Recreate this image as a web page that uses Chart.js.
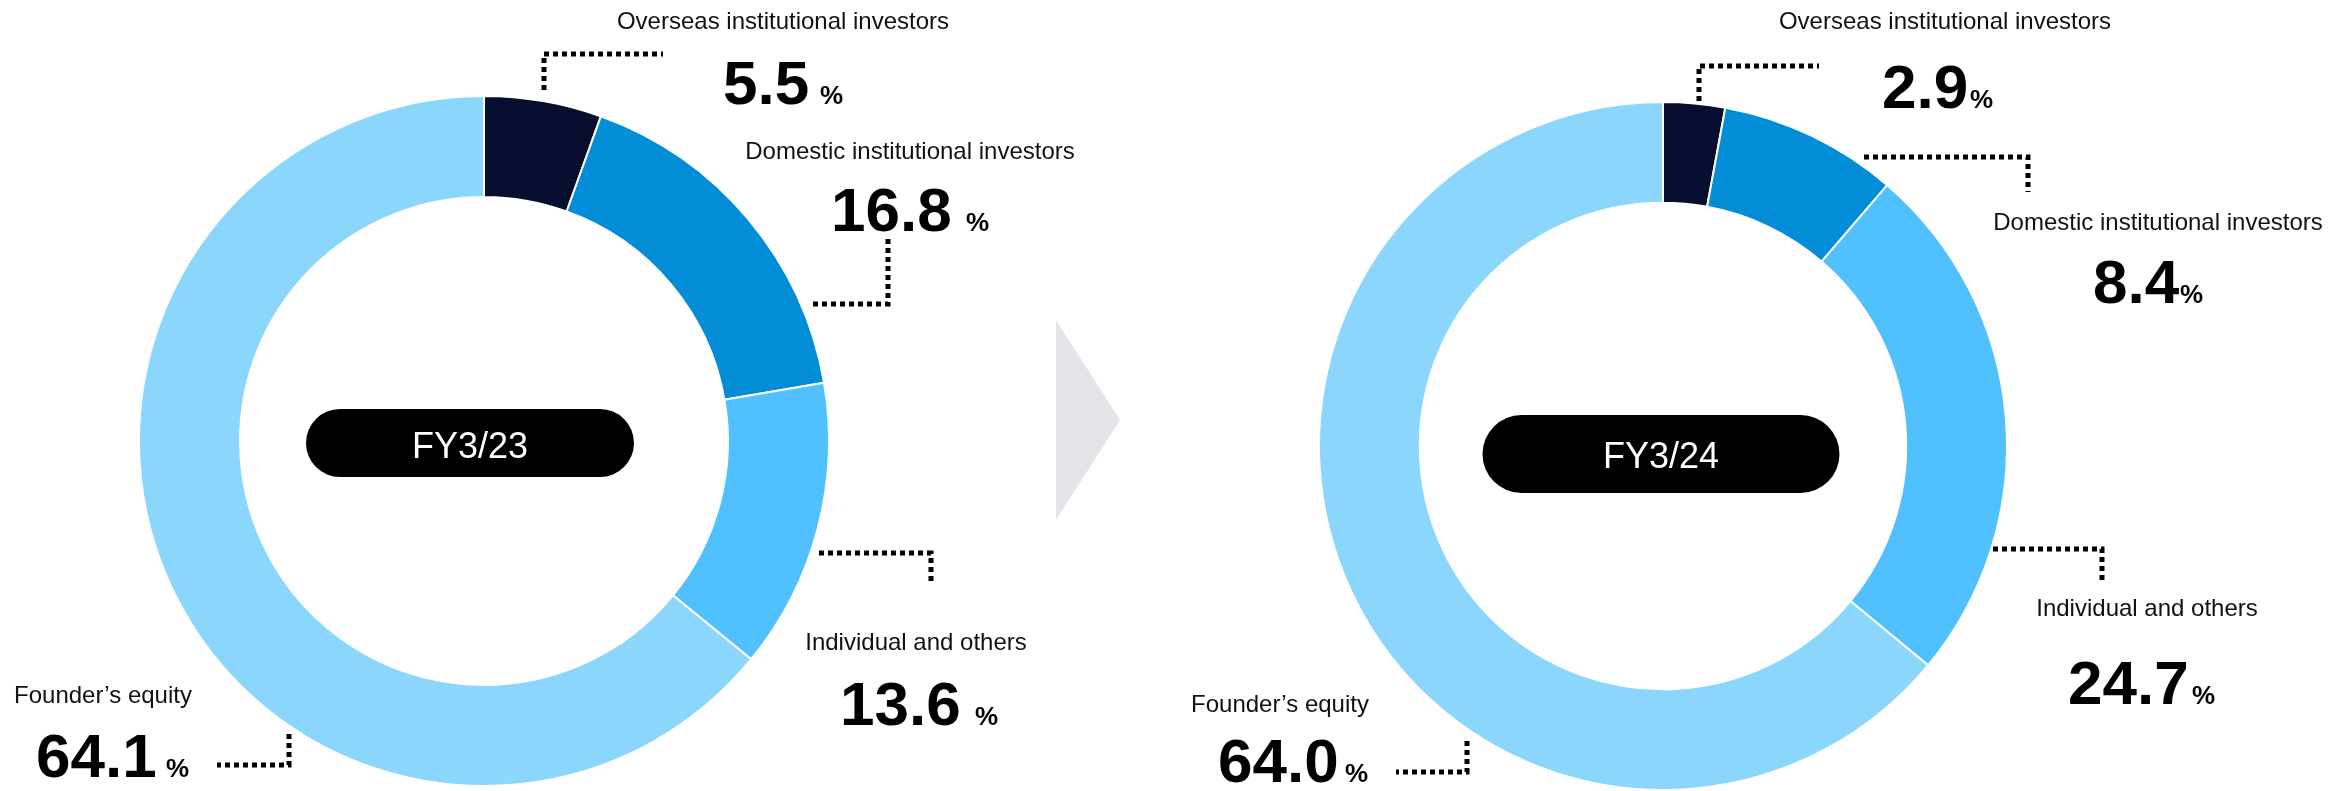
<!DOCTYPE html>
<html>
<head>
<meta charset="utf-8">
<title>Shareholder composition</title>
<script src="https://cdn.jsdelivr.net/npm/chart.js@4.4.1/dist/chart.umd.min.js"></script>
<style>
  html, body { margin: 0; padding: 0; background: #ffffff; }
  #wrap { position: relative; width: 2352px; height: 791px; overflow: hidden; }
  #wrap canvas { position: absolute; top: 0; }
</style>
</head>
<body>
<div id="wrap">
  <canvas id="chartFy23" width="1176" height="791" style="left:0px"></canvas>
  <canvas id="chartFy24" width="1176" height="791" style="left:1176px"></canvas>
</div>
<script>
// ---- data ----
const categories = [
  'Overseas institutional investors',
  'Domestic institutional investors',
  'Individual and others',
  'Founder\u2019s equity'
];
const fy23Values = [5.5, 16.8, 13.6, 64.1];
const fy24Values = [2.9, 8.4, 24.7, 64.0];
const periodLabels = ['FY3/23', 'FY3/24'];

// ---- styling ----
const segmentColors = ['#070e2f', '#028dd6', '#50c1fe', '#8bd6fd'];
const FONT = '"Liberation Sans", Arial, Helvetica, sans-serif';

// Page layout for each ring (page coordinates)
const layouts = [
  {
    canvasLeft: 0, cx: 484, cy: 441, radius: 345, cutout: '70.7%',
    pill: { cx: 470, cy: 443, w: 328, h: 68, textY: 458 },
    arrow: [[1056, 320], [1056, 520], [1120, 420]],
    callouts: [
      { nameX: 783, nameY: 29, valX: 723, valY: 104, pctX: 820, leader: [[544, 90], [544, 54], [663, 54]] },
      { nameX: 910, nameY: 159, valX: 831, valY: 231, pctX: 966, leader: [[888, 239], [888, 304], [812, 304]] },
      { nameX: 916, nameY: 650, valX: 840, valY: 725, pctX: 975, leader: [[819, 553], [931, 553], [931, 584]] },
      { nameX: 103, nameY: 703, valX: 36, valY: 777, pctX: 166, leader: [[289, 734], [289, 765], [217, 765]] }
    ]
  },
  {
    canvasLeft: 1176, cx: 1663, cy: 446, radius: 344, cutout: '70.7%',
    pill: { cx: 1661, cy: 454, w: 357, h: 78, textY: 468 },
    arrow: null,
    callouts: [
      { nameX: 1945, nameY: 29, valX: 1882, valY: 108, pctX: 1970, leader: [[1699, 101], [1699, 66], [1819, 66]] },
      { nameX: 2158, nameY: 230, valX: 2093, valY: 303, pctX: 2180, leader: [[1864, 157], [2028, 157], [2028, 192]] },
      { nameX: 2147, nameY: 616, valX: 2068, valY: 704, pctX: 2192, leader: [[1993, 549], [2102, 549], [2102, 581]] },
      { nameX: 1280, nameY: 712, valX: 1218, valY: 782, pctX: 1345, leader: [[1467, 741], [1467, 772], [1396, 772]] }
    ]
  }
];

// Draws the period pill, the connecting arrow, dotted leaders and the callout texts
const calloutPlugin = {
  id: 'shareCallouts',
  beforeDatasetsDraw(chart, args, opts) {
    const L = opts.layout;
    if (!L.arrow) return;
    const ctx = chart.ctx;
    const ox = L.canvasLeft;
    ctx.save();
    ctx.fillStyle = '#e4e5e9';
    ctx.beginPath();
    L.arrow.forEach(([x, y], i) => i ? ctx.lineTo(x - ox, y) : ctx.moveTo(x - ox, y));
    ctx.closePath();
    ctx.fill();
    ctx.restore();
  },
  afterDatasetsDraw(chart, args, opts) {
    const L = opts.layout;
    const ctx = chart.ctx;
    const ox = L.canvasLeft;
    const values = chart.data.datasets[0].data;
    const names = chart.data.labels;

    ctx.save();
    // dotted leader lines
    ctx.strokeStyle = '#000000';
    ctx.lineWidth = 5;
    ctx.lineCap = 'butt';
    ctx.setLineDash([5, 4]);
    L.callouts.forEach(c => {
      ctx.beginPath();
      c.leader.forEach(([x, y], i) => i ? ctx.lineTo(x - ox, y) : ctx.moveTo(x - ox, y));
      ctx.stroke();
    });
    ctx.setLineDash([]);

    // period pill in the centre
    const p = L.pill;
    const r = p.h / 2;
    ctx.fillStyle = '#000000';
    ctx.beginPath();
    ctx.moveTo(p.cx - p.w / 2 + r - ox, p.cy - r);
    ctx.lineTo(p.cx + p.w / 2 - r - ox, p.cy - r);
    ctx.arc(p.cx + p.w / 2 - r - ox, p.cy, r, -Math.PI / 2, Math.PI / 2);
    ctx.lineTo(p.cx - p.w / 2 + r - ox, p.cy + r);
    ctx.arc(p.cx - p.w / 2 + r - ox, p.cy, r, Math.PI / 2, Math.PI * 1.5);
    ctx.closePath();
    ctx.fill();
    ctx.fillStyle = '#ffffff';
    ctx.font = '36px ' + FONT;
    ctx.textAlign = 'center';
    ctx.textBaseline = 'alphabetic';
    ctx.fillText(opts.period, p.cx - ox, p.textY);

    // category names and values
    L.callouts.forEach((c, i) => {
      ctx.fillStyle = '#111111';
      ctx.font = '24px ' + FONT;
      ctx.textAlign = 'center';
      ctx.fillText(names[i], c.nameX - ox, c.nameY);

      ctx.fillStyle = '#000000';
      ctx.textAlign = 'left';
      ctx.font = 'bold 62px ' + FONT;
      ctx.fillText(Number(values[i]).toFixed(1), c.valX - ox, c.valY);
      ctx.font = 'bold 26px ' + FONT;
      ctx.fillText('%', c.pctX - ox, c.valY);
    });
    ctx.restore();
  }
};

function buildChart(canvasId, values, period, L) {
  const canvas = document.getElementById(canvasId);
  const W = canvas.width, H = canvas.height;
  const localCx = L.cx - L.canvasLeft;
  return new Chart(canvas, {
    type: 'doughnut',
    data: {
      labels: categories,
      datasets: [{
        data: values,
        backgroundColor: segmentColors,
        borderColor: '#ffffff',
        borderWidth: 2,
        hoverOffset: 0
      }]
    },
    options: {
      responsive: false,
      animation: false,
      events: [],
      radius: L.radius,
      cutout: L.cutout,
      rotation: 0,
      circumference: 360,
      layout: {
        padding: {
          left: 0,
          right: W - 2 * localCx,
          top: 2 * L.cy - H,
          bottom: 0
        }
      },
      plugins: {
        legend: { display: false },
        tooltip: { enabled: false },
        shareCallouts: { layout: L, period: period }
      }
    },
    plugins: [calloutPlugin]
  });
}

buildChart('chartFy23', fy23Values, periodLabels[0], layouts[0]);
buildChart('chartFy24', fy24Values, periodLabels[1], layouts[1]);
</script>
</body>
</html>
